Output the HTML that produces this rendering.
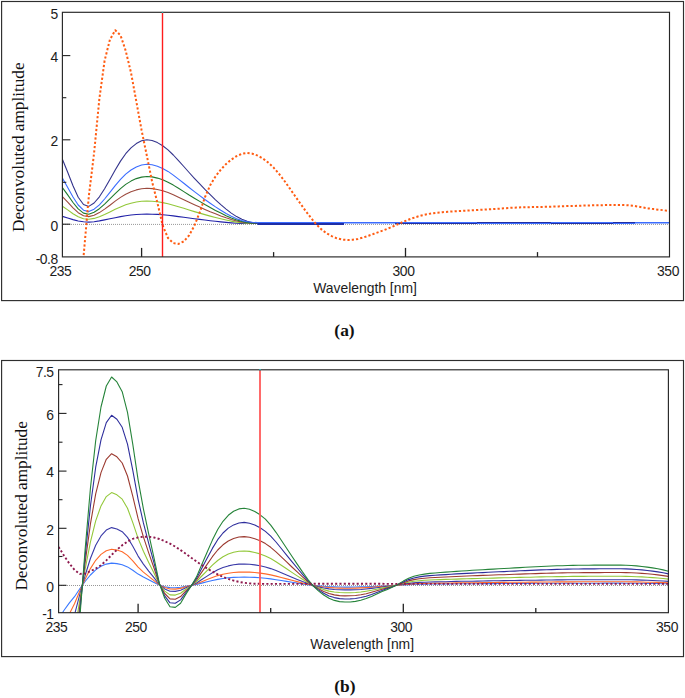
<!DOCTYPE html>
<html><head><meta charset="utf-8"><title>Deconvoluted spectra</title>
<style>
html,body{margin:0;padding:0;background:#fff;}
body{width:685px;height:698px;position:relative;overflow:hidden;font-family:"Liberation Sans",sans-serif;}
svg{display:block}
</style></head><body>
<svg width="685" height="698" viewBox="0 0 685 698" style="position:absolute;left:0;top:0">
<defs>
<clipPath id="ca"><rect x="62.4" y="12.3" width="607.1" height="244.59999999999997"/></clipPath>
<clipPath id="cb"><rect x="58.6" y="369.8" width="609.8" height="242.90000000000003"/></clipPath>
</defs>
<rect x="1.6" y="1.5" width="681.9" height="299.1" fill="#fff" stroke="#2e2e2e" stroke-width="1.15"/>
<rect x="1.6" y="360.5" width="681.9" height="296.1" fill="#fff" stroke="#2e2e2e" stroke-width="1.15"/>
<line x1="63" y1="224.4" x2="669" y2="224.4" stroke="#979797" stroke-width="1" stroke-dasharray="1 1"/>
<g clip-path="url(#ca)" fill="none" stroke-linejoin="round">
<path d="M62.4,216.4 L67.7,218.0 L73.0,219.6 L78.2,221.0 L83.5,221.8 L88.8,222.1 L94.1,221.7 L99.4,220.9 L104.6,219.9 L109.9,218.8 L115.2,217.7 L120.5,216.6 L125.7,215.7 L131.0,215.0 L136.3,214.5 L141.6,214.2 L146.9,214.1 L152.1,214.2 L157.4,214.4 L162.7,214.8 L168.0,215.3 L173.3,215.9 L178.5,216.6 L183.8,217.3 L189.1,218.0 L194.4,218.7 L199.7,219.4 L204.9,220.0 L210.2,220.7 L215.5,221.3 L220.8,221.9 L226.1,222.4 L231.3,222.9 L236.6,223.3 L241.9,223.5 L247.2,223.5 L252.4,223.5 L257.7,223.4" stroke="#2222a8" stroke-width="1.1"/>
<path d="M62.4,206.3 L67.7,209.9 L73.0,213.7 L78.2,216.8 L83.5,218.8 L88.8,219.3 L94.1,218.4 L99.4,216.7 L104.6,214.4 L109.9,211.9 L115.2,209.3 L120.5,206.9 L125.7,204.8 L131.0,203.2 L136.3,202.0 L141.6,201.3 L146.9,201.0 L152.1,201.2 L157.4,201.8 L162.7,202.6 L168.0,203.8 L173.3,205.2 L178.5,206.7 L183.8,208.3 L189.1,210.0 L194.4,211.6 L199.7,213.1 L204.9,214.6 L210.2,216.1 L215.5,217.5 L220.8,218.8 L226.1,220.0 L231.3,221.1 L236.6,222.1 L241.9,222.8 L247.2,223.2 L252.4,223.3 L257.7,223.4" stroke="#93c83a" stroke-width="1.1"/>
<path d="M62.4,196.6 L67.7,202.1 L73.0,207.9 L78.2,212.7 L83.5,215.8 L88.8,216.6 L94.1,215.2 L99.4,212.6 L104.6,209.1 L109.9,205.2 L115.2,201.1 L120.5,197.4 L125.7,194.2 L131.0,191.8 L136.3,189.9 L141.6,188.8 L146.9,188.3 L152.1,188.6 L157.4,189.5 L162.7,190.8 L168.0,192.6 L173.3,194.8 L178.5,197.2 L183.8,199.7 L189.1,202.2 L194.4,204.7 L199.7,207.1 L204.9,209.4 L210.2,211.7 L215.5,213.8 L220.8,215.9 L226.1,217.8 L231.3,219.5 L236.6,221.0 L241.9,222.1 L247.2,222.8 L252.4,223.2 L257.7,223.3" stroke="#9c4a3e" stroke-width="1.1"/>
<path d="M62.4,187.5 L67.7,194.9 L73.0,202.5 L78.2,208.9 L83.5,213.1 L88.8,214.2 L94.1,212.2 L99.4,208.7 L104.6,204.2 L109.9,198.9 L115.2,193.6 L120.5,188.6 L125.7,184.4 L131.0,181.1 L136.3,178.6 L141.6,177.1 L146.9,176.5 L152.1,176.9 L157.4,178.1 L162.7,179.8 L168.0,182.2 L173.3,185.1 L178.5,188.3 L183.8,191.6 L189.1,195.0 L194.4,198.2 L199.7,201.4 L204.9,204.5 L210.2,207.5 L215.5,210.4 L220.8,213.1 L226.1,215.7 L231.3,217.9 L236.6,219.9 L241.9,221.4 L247.2,222.4 L252.4,223.1 L257.7,223.3" stroke="#1f7a2e" stroke-width="1.1"/>
<path d="M62.4,159.2 L67.7,172.3 L73.0,185.8 L78.2,197.2 L83.5,204.5 L88.8,206.4 L94.1,203.0 L99.4,196.8 L104.6,188.7 L109.9,179.5 L115.2,170.0 L120.5,161.1 L125.7,153.7 L131.0,147.9 L136.3,143.6 L141.6,140.8 L146.9,139.8 L152.1,140.5 L157.4,142.6 L162.7,145.7 L168.0,149.9 L173.3,155.0 L178.5,160.6 L183.8,166.5 L189.1,172.5 L194.4,178.3 L199.7,183.9 L204.9,189.4 L210.2,194.7 L215.5,199.8 L220.8,204.6 L226.1,209.1 L231.3,213.1 L236.6,216.6 L241.9,219.3 L247.2,221.3 L252.4,222.7 L257.7,223.2" stroke="#33338c" stroke-width="1.1"/>
<path d="M62.4,178.1 L67.7,187.4 L73.0,197.0 L78.2,205.0 L83.5,210.2 L88.8,211.6 L94.1,209.2 L99.4,204.8 L104.6,199.0 L109.9,192.4 L115.2,185.7 L120.5,179.4 L125.7,174.1 L131.0,170.0 L136.3,167.0 L141.6,165.0 L146.9,164.3 L152.1,164.8 L157.4,166.2 L162.7,168.5 L168.0,171.4 L173.3,175.1 L178.5,179.1 L183.8,183.3 L189.1,187.5 L194.4,191.6 L199.7,195.6 L204.9,199.5 L210.2,203.2 L215.5,206.9 L220.8,210.3 L226.1,213.5 L231.3,216.3 L236.6,218.8 L241.9,220.6 L247.2,221.7 L252.4,222.3 L257.7,222.5" stroke="#3a6cff" stroke-width="1.1"/>
<path d="M257.4,222.75 L669.9,222.75" stroke="#3a6cff" stroke-width="1.5"/>
<path d="M257.4,224 L344,224" stroke="#1f2ea6" stroke-width="2"/>
<path d="M395,223.5 L477,223.5" stroke="#1f2ea6" stroke-width="1"/>
<path d="M551,223.5 L613,223.5" stroke="#1f2ea6" stroke-width="1"/>
<path d="M477,222.5 L551,222.5" stroke="#1f2ea6" stroke-width="1"/>
<path d="M477,223.5 L551,223.5" stroke="#3a6cff" stroke-width="1"/>
<path d="M613,222.5 L635,222.5" stroke="#1f2ea6" stroke-width="1"/>
<path d="M613,223.5 L635,223.5" stroke="#3a6cff" stroke-width="1"/>
<path d="M80.0,285.0 L83.5,257.2 L88.8,196.4 L94.1,152.9 L99.4,98.5 L104.6,60.6 L109.9,39.7 L115.2,30.2 L120.5,35.3 L125.7,50.7 L131.0,72.7 L136.3,101.3 L141.6,130.4 L146.9,156.0 L152.1,181.7 L157.4,202.8 L162.7,225.5 L168.0,238.0 L173.3,243.1 L178.5,243.9 L183.8,241.4 L189.1,235.4 L194.4,225.7 L199.7,212.4 L204.9,197.4 L210.2,185.2 L215.5,176.4 L220.8,169.6 L226.1,164.0 L231.3,159.6 L236.6,156.1 L241.9,153.8 L247.2,153.0 L252.4,153.7 L257.7,155.6 L263.0,158.6 L268.3,162.6 L273.6,167.6 L278.8,173.6 L284.1,180.4 L289.4,187.9 L294.7,195.5 L300.0,203.0 L305.2,210.3 L310.5,217.3 L315.8,223.8 L321.1,229.1 L326.4,233.2 L331.6,236.1 L336.9,238.3 L342.2,239.6 L347.5,240.0 L352.8,239.8 L358.0,238.9 L363.3,237.5 L368.6,235.7 L373.9,233.8 L379.1,231.9 L384.4,230.0 L389.7,227.8 L395.0,225.5 L400.3,223.2 L405.5,220.9 L410.8,218.8 L416.1,217.0 L421.4,215.5 L426.7,214.3 L431.9,213.3 L437.2,212.7 L442.5,212.2 L447.8,211.8 L453.1,211.4 L458.3,211.1 L463.6,210.8 L468.9,210.5 L474.2,210.2 L479.5,209.9 L484.7,209.6 L490.0,209.3 L495.3,208.9 L500.6,208.6 L505.8,208.2 L511.1,207.8 L516.4,207.6 L521.7,207.3 L527.0,207.2 L532.2,207.1 L537.5,207.0 L542.8,206.9 L548.1,206.8 L553.4,206.6 L558.6,206.4 L563.9,206.2 L569.2,206.0 L574.5,205.9 L579.8,205.7 L585.0,205.5 L590.3,205.4 L595.6,205.3 L600.9,205.2 L606.2,205.0 L611.4,204.9 L616.7,204.9 L622.0,205.0 L627.3,205.2 L632.5,205.7 L637.8,206.5 L643.1,207.5 L648.4,208.4 L653.7,209.1 L658.9,209.7 L664.2,210.3 L669.5,211.0" stroke="#ff5c12" stroke-width="2" stroke-dasharray="2.2 2.1"/>
</g>
<line x1="162.5" y1="12.3" x2="162.5" y2="256.9" stroke="#ff1c1c" stroke-width="1.4"/>
<rect x="62.4" y="12.3" width="607.1" height="244.59999999999997" fill="none" stroke="#262626" stroke-width="1.15"/>
<line x1="62.4" y1="55.6" x2="70.3" y2="55.6" stroke="#222" stroke-width="1.1"/>
<line x1="62.4" y1="97.7" x2="66.3" y2="97.7" stroke="#222" stroke-width="1.1"/>
<line x1="62.4" y1="139.8" x2="70.3" y2="139.8" stroke="#222" stroke-width="1.1"/>
<line x1="62.4" y1="182.3" x2="66.3" y2="182.3" stroke="#222" stroke-width="1.1"/>
<line x1="62.4" y1="224.2" x2="70.3" y2="224.2" stroke="#222" stroke-width="1.1"/>
<line x1="141.6" y1="256.9" x2="141.6" y2="247.89999999999998" stroke="#222" stroke-width="1.3"/>
<line x1="273.6" y1="256.9" x2="273.6" y2="252.09999999999997" stroke="#222" stroke-width="1.3"/>
<line x1="405.5" y1="256.9" x2="405.5" y2="247.89999999999998" stroke="#222" stroke-width="1.3"/>
<line x1="537.5" y1="256.9" x2="537.5" y2="252.09999999999997" stroke="#222" stroke-width="1.3"/>
<line x1="59" y1="585.5" x2="668" y2="585.5" stroke="#979797" stroke-width="1" stroke-dasharray="1 1"/>
<g clip-path="url(#cb)" fill="none" stroke-linejoin="round">
<path d="M56.0,622.8 L58.6,618.7 L63.9,610.5 L69.2,603.1 L74.5,596.7 L79.8,588.8 L85.1,581.5 L90.4,575.0 L95.7,569.9 L101.0,566.3 L106.3,564.1 L111.6,563.1 L116.9,563.6 L122.2,564.7 L127.5,566.9 L132.8,570.3 L138.1,574.1 L143.4,577.1 L148.7,579.8 L154.0,582.4 L159.3,585.1 L164.7,586.7 L170.0,587.6 L175.3,587.7 L180.6,587.2 L185.9,586.2 L191.2,585.4 L196.5,584.4 L201.8,583.1 L207.1,581.8 L212.4,580.5 L217.7,579.4 L223.0,578.5 L228.3,577.8 L233.6,577.4 L238.9,577.2 L244.2,577.1 L249.5,577.2 L254.8,577.4 L260.1,577.8 L265.4,578.3 L270.7,578.9 L276.0,579.7 L281.3,580.5 L286.6,581.4 L291.9,582.2 L297.2,583.0 L302.5,583.9 L307.8,584.7 L313.1,585.4 L318.4,585.9 L323.7,586.3 L329.0,586.7 L334.3,586.9 L339.6,587.0 L344.9,587.1 L350.2,587.1 L355.5,587.0 L360.8,586.9 L366.2,586.7 L371.5,586.5 L376.8,586.2 L382.1,586.0 L387.4,585.7 L392.7,585.5 L398.0,585.2 L403.3,584.9 L408.6,584.6 L413.9,584.3 L419.2,584.2 L424.5,584.1 L429.8,584.0 L435.1,584.0 L440.4,583.9 L445.7,583.9 L451.0,583.9 L456.3,583.8 L461.6,583.8 L466.9,583.7 L472.2,583.7 L477.5,583.7 L482.8,583.6 L488.1,583.6 L493.4,583.6 L498.7,583.5 L504.0,583.5 L509.3,583.5 L514.6,583.4 L519.9,583.4 L525.2,583.4 L530.5,583.4 L535.8,583.3 L541.1,583.3 L546.4,583.3 L551.7,583.2 L557.0,583.2 L562.3,583.2 L567.7,583.2 L573.0,583.2 L578.3,583.2 L583.6,583.2 L588.9,583.2 L594.2,583.2 L599.5,583.2 L604.8,583.1 L610.1,583.1 L615.4,583.1 L620.7,583.1 L626.0,583.2 L631.3,583.2 L636.6,583.2 L641.9,583.3 L647.2,583.4 L652.5,583.4 L657.8,583.5 L663.1,583.7 L668.4,583.8 L669.3,583.8" stroke="#3a78ff" stroke-width="1.1"/>
<path d="M56.0,646.3 L58.6,639.6 L63.9,626.2 L69.2,614.2 L74.5,603.8 L79.8,591.0 L85.1,579.2 L90.4,568.6 L95.7,560.3 L101.0,554.4 L106.3,550.8 L111.6,549.3 L116.9,550.1 L122.2,551.8 L127.5,555.4 L132.8,560.9 L138.1,567.1 L143.4,572.1 L148.7,576.4 L154.0,580.6 L159.3,584.9 L164.7,587.5 L170.0,589.0 L175.3,589.1 L180.6,588.4 L185.9,586.8 L191.2,585.4 L196.5,583.8 L201.8,581.7 L207.1,579.6 L212.4,577.5 L217.7,575.6 L223.0,574.2 L228.3,573.2 L233.6,572.5 L238.9,572.1 L244.2,572.0 L249.5,572.1 L254.8,572.5 L260.1,573.1 L265.4,573.9 L270.7,574.9 L276.0,576.1 L281.3,577.5 L286.6,578.9 L291.9,580.3 L297.2,581.6 L302.5,583.0 L307.8,584.3 L313.1,585.4 L318.4,586.3 L323.7,587.0 L329.0,587.5 L334.3,587.9 L339.6,588.1 L344.9,588.2 L350.2,588.2 L355.5,588.1 L360.8,587.9 L366.2,587.6 L371.5,587.2 L376.8,586.8 L382.1,586.4 L387.4,586.0 L392.7,585.6 L398.0,585.1 L403.3,584.6 L408.6,584.1 L413.9,583.7 L419.2,583.5 L424.5,583.4 L429.8,583.2 L435.1,583.2 L440.4,583.1 L445.7,583.0 L451.0,583.0 L456.3,582.9 L461.6,582.8 L466.9,582.8 L472.2,582.7 L477.5,582.7 L482.8,582.6 L488.1,582.5 L493.4,582.5 L498.7,582.4 L504.0,582.4 L509.3,582.3 L514.6,582.3 L519.9,582.2 L525.2,582.2 L530.5,582.1 L535.8,582.1 L541.1,582.0 L546.4,582.0 L551.7,582.0 L557.0,581.9 L562.3,581.9 L567.7,581.9 L573.0,581.9 L578.3,581.8 L583.6,581.8 L588.9,581.8 L594.2,581.8 L599.5,581.8 L604.8,581.8 L610.1,581.8 L615.4,581.8 L620.7,581.8 L626.0,581.8 L631.3,581.9 L636.6,581.9 L641.9,582.0 L647.2,582.2 L652.5,582.3 L657.8,582.4 L663.1,582.6 L668.4,582.9 L669.3,582.9" stroke="#ff6a2a" stroke-width="1.1"/>
<path d="M56.0,682.9 L58.6,672.2 L63.9,650.8 L69.2,631.6 L74.5,614.9 L79.8,594.4 L85.1,575.5 L90.4,558.5 L95.7,545.2 L101.0,535.9 L106.3,530.1 L111.6,527.6 L116.9,529.0 L122.2,531.7 L127.5,537.4 L132.8,546.3 L138.1,556.1 L143.4,564.1 L148.7,571.1 L154.0,577.7 L159.3,584.7 L164.7,588.9 L170.0,591.2 L175.3,591.4 L180.6,590.3 L185.9,587.7 L191.2,585.5 L196.5,583.0 L201.8,579.5 L207.1,576.1 L212.4,572.8 L217.7,569.8 L223.0,567.6 L228.3,565.9 L233.6,564.8 L238.9,564.1 L244.2,564.0 L249.5,564.2 L254.8,564.9 L260.1,565.8 L265.4,567.0 L270.7,568.6 L276.0,570.6 L281.3,572.8 L286.6,575.1 L291.9,577.3 L297.2,579.4 L302.5,581.6 L307.8,583.6 L313.1,585.5 L318.4,586.9 L323.7,588.0 L329.0,588.9 L334.3,589.5 L339.6,589.8 L344.9,589.9 L350.2,589.9 L355.5,589.8 L360.8,589.5 L366.2,589.0 L371.5,588.4 L376.8,587.7 L382.1,587.0 L387.4,586.4 L392.7,585.8 L398.0,585.0 L403.3,584.1 L408.6,583.4 L413.9,582.8 L419.2,582.4 L424.5,582.2 L429.8,582.0 L435.1,581.9 L440.4,581.8 L445.7,581.7 L451.0,581.5 L456.3,581.4 L461.6,581.3 L466.9,581.2 L472.2,581.2 L477.5,581.1 L482.8,581.0 L488.1,580.9 L493.4,580.8 L498.7,580.7 L504.0,580.6 L509.3,580.5 L514.6,580.5 L519.9,580.4 L525.2,580.3 L530.5,580.2 L535.8,580.2 L541.1,580.1 L546.4,580.0 L551.7,580.0 L557.0,579.9 L562.3,579.9 L567.7,579.8 L573.0,579.8 L578.3,579.8 L583.6,579.7 L588.9,579.7 L594.2,579.7 L599.5,579.7 L604.8,579.7 L610.1,579.7 L615.4,579.7 L620.7,579.7 L626.0,579.7 L631.3,579.8 L636.6,579.9 L641.9,580.1 L647.2,580.3 L652.5,580.5 L657.8,580.7 L663.1,581.0 L668.4,581.4 L669.3,581.5" stroke="#3a3aa8" stroke-width="1.1"/>
<path d="M56.0,742.1 L58.6,724.9 L63.9,690.6 L69.2,659.7 L74.5,632.8 L79.8,599.9 L85.1,569.5 L90.4,542.2 L95.7,520.9 L101.0,505.9 L106.3,496.6 L111.6,492.6 L116.9,494.8 L122.2,499.2 L127.5,508.3 L132.8,522.6 L138.1,538.4 L143.4,551.2 L148.7,562.4 L154.0,573.1 L159.3,584.4 L164.7,591.1 L170.0,594.9 L175.3,595.1 L180.6,593.3 L185.9,589.2 L191.2,585.6 L196.5,581.5 L201.8,576.0 L207.1,570.6 L212.4,565.2 L217.7,560.5 L223.0,556.8 L228.3,554.1 L233.6,552.3 L238.9,551.3 L244.2,551.0 L249.5,551.4 L254.8,552.5 L260.1,553.9 L265.4,555.9 L270.7,558.5 L276.0,561.7 L281.3,565.2 L286.6,568.8 L291.9,572.4 L297.2,575.9 L302.5,579.3 L307.8,582.6 L313.1,585.6 L318.4,587.8 L323.7,589.6 L329.0,591.1 L334.3,592.0 L339.6,592.5 L344.9,592.7 L350.2,592.7 L355.5,592.5 L360.8,592.0 L366.2,591.2 L371.5,590.3 L376.8,589.2 L382.1,588.1 L387.4,587.1 L392.7,586.1 L398.0,584.9 L403.3,583.4 L408.6,582.2 L413.9,581.3 L419.2,580.7 L424.5,580.3 L429.8,580.0 L435.1,579.8 L440.4,579.6 L445.7,579.4 L451.0,579.3 L456.3,579.1 L461.6,578.9 L466.9,578.8 L472.2,578.6 L477.5,578.5 L482.8,578.3 L488.1,578.2 L493.4,578.1 L498.7,577.9 L504.0,577.8 L509.3,577.7 L514.6,577.5 L519.9,577.4 L525.2,577.3 L530.5,577.2 L535.8,577.0 L541.1,576.9 L546.4,576.8 L551.7,576.7 L557.0,576.6 L562.3,576.6 L567.7,576.5 L573.0,576.4 L578.3,576.4 L583.6,576.4 L588.9,576.3 L594.2,576.3 L599.5,576.3 L604.8,576.3 L610.1,576.3 L615.4,576.3 L620.7,576.3 L626.0,576.4 L631.3,576.5 L636.6,576.7 L641.9,576.9 L647.2,577.2 L652.5,577.6 L657.8,578.0 L663.1,578.5 L668.4,579.1 L669.3,579.2" stroke="#93c83a" stroke-width="1.1"/>
<path d="M56.0,808.0 L58.6,783.5 L63.9,734.8 L69.2,691.0 L74.5,652.7 L79.8,606.0 L85.1,562.9 L90.4,524.1 L95.7,493.8 L101.0,472.6 L106.3,459.3 L111.6,453.7 L116.9,456.8 L122.2,463.0 L127.5,476.0 L132.8,496.3 L138.1,518.7 L143.4,536.9 L148.7,552.8 L154.0,568.0 L159.3,584.0 L164.7,593.5 L170.0,598.9 L175.3,599.3 L180.6,596.6 L185.9,590.9 L191.2,585.8 L196.5,580.0 L201.8,572.1 L207.1,564.4 L212.4,556.7 L217.7,550.0 L223.0,544.8 L228.3,541.0 L233.6,538.5 L238.9,537.0 L244.2,536.6 L249.5,537.2 L254.8,538.7 L260.1,540.7 L265.4,543.6 L270.7,547.3 L276.0,551.8 L281.3,556.8 L286.6,561.9 L291.9,567.0 L297.2,571.9 L302.5,576.8 L307.8,581.5 L313.1,585.7 L318.4,588.8 L323.7,591.4 L329.0,593.5 L334.3,594.9 L339.6,595.6 L344.9,595.9 L350.2,595.8 L355.5,595.5 L360.8,594.8 L366.2,593.7 L371.5,592.3 L376.8,590.8 L382.1,589.3 L387.4,587.9 L392.7,586.5 L398.0,584.7 L403.3,582.7 L408.6,580.9 L413.9,579.6 L419.2,578.8 L424.5,578.2 L429.8,577.8 L435.1,577.5 L440.4,577.2 L445.7,577.0 L451.0,576.7 L456.3,576.5 L461.6,576.3 L466.9,576.0 L472.2,575.8 L477.5,575.6 L482.8,575.4 L488.1,575.2 L493.4,575.0 L498.7,574.8 L504.0,574.7 L509.3,574.5 L514.6,574.3 L519.9,574.1 L525.2,573.9 L530.5,573.7 L535.8,573.6 L541.1,573.4 L546.4,573.3 L551.7,573.1 L557.0,573.0 L562.3,572.9 L567.7,572.8 L573.0,572.7 L578.3,572.7 L583.6,572.6 L588.9,572.6 L594.2,572.6 L599.5,572.6 L604.8,572.5 L610.1,572.5 L615.4,572.5 L620.7,572.5 L626.0,572.6 L631.3,572.8 L636.6,573.0 L641.9,573.4 L647.2,573.8 L652.5,574.3 L657.8,574.9 L663.1,575.6 L668.4,576.4 L669.3,576.6" stroke="#9c3a30" stroke-width="1.1"/>
<path d="M56.0,872.9 L58.6,841.2 L63.9,778.3 L69.2,721.7 L74.5,672.4 L79.8,612.1 L85.1,556.4 L90.4,506.3 L95.7,467.2 L101.0,439.8 L106.3,422.6 L111.6,415.3 L116.9,419.3 L122.2,427.3 L127.5,444.1 L132.8,470.4 L138.1,499.3 L143.4,522.9 L148.7,543.4 L154.0,562.9 L159.3,583.6 L164.7,595.9 L170.0,602.8 L175.3,603.3 L180.6,599.9 L185.9,592.5 L191.2,585.9 L196.5,578.4 L201.8,568.3 L207.1,558.3 L212.4,548.4 L217.7,539.7 L223.0,533.0 L228.3,528.1 L233.6,524.9 L238.9,523.0 L244.2,522.4 L249.5,523.2 L254.8,525.1 L260.1,527.8 L265.4,531.4 L270.7,536.2 L276.0,542.0 L281.3,548.5 L286.6,555.1 L291.9,561.6 L297.2,568.0 L302.5,574.3 L307.8,580.4 L313.1,585.8 L318.4,589.9 L323.7,593.2 L329.0,595.9 L334.3,597.6 L339.6,598.6 L344.9,599.0 L350.2,598.9 L355.5,598.5 L360.8,597.5 L366.2,596.2 L371.5,594.4 L376.8,592.4 L382.1,590.4 L387.4,588.6 L392.7,586.8 L398.0,584.5 L403.3,581.9 L408.6,579.6 L413.9,578.0 L419.2,576.9 L424.5,576.1 L429.8,575.6 L435.1,575.2 L440.4,574.9 L445.7,574.6 L451.0,574.2 L456.3,573.9 L461.6,573.6 L466.9,573.4 L472.2,573.1 L477.5,572.8 L482.8,572.6 L488.1,572.3 L493.4,572.0 L498.7,571.8 L504.0,571.6 L509.3,571.3 L514.6,571.1 L519.9,570.8 L525.2,570.6 L530.5,570.4 L535.8,570.1 L541.1,569.9 L546.4,569.8 L551.7,569.6 L557.0,569.4 L562.3,569.3 L567.7,569.1 L573.0,569.0 L578.3,569.0 L583.6,568.9 L588.9,568.9 L594.2,568.9 L599.5,568.8 L604.8,568.8 L610.1,568.8 L615.4,568.8 L620.7,568.8 L626.0,568.9 L631.3,569.1 L636.6,569.5 L641.9,569.9 L647.2,570.5 L652.5,571.1 L657.8,571.9 L663.1,572.8 L668.4,573.9 L669.3,574.1" stroke="#2e2e9c" stroke-width="1.1"/>
<path d="M56.0,937.7 L58.6,898.9 L63.9,821.8 L69.2,752.5 L74.5,692.0 L79.8,618.1 L85.1,549.9 L90.4,488.5 L95.7,440.6 L101.0,407.0 L106.3,386.0 L111.6,377.0 L116.9,381.9 L122.2,391.7 L127.5,412.3 L132.8,444.4 L138.1,479.9 L143.4,508.8 L148.7,533.9 L154.0,557.8 L159.3,583.2 L164.7,598.2 L170.0,606.8 L175.3,607.4 L180.6,603.2 L185.9,594.1 L191.2,586.0 L196.5,576.9 L201.8,564.5 L207.1,552.2 L212.4,540.1 L217.7,529.5 L223.0,521.3 L228.3,515.3 L233.6,511.2 L238.9,508.9 L244.2,508.2 L249.5,509.2 L254.8,511.5 L260.1,514.8 L265.4,519.2 L270.7,525.2 L276.0,532.3 L281.3,540.2 L286.6,548.3 L291.9,556.3 L297.2,564.1 L302.5,571.9 L307.8,579.3 L313.1,585.9 L318.4,590.9 L323.7,595.0 L329.0,598.3 L334.3,600.4 L339.6,601.6 L344.9,602.0 L350.2,602.0 L355.5,601.4 L360.8,600.3 L366.2,598.6 L371.5,596.4 L376.8,594.0 L382.1,591.6 L387.4,589.4 L392.7,587.1 L398.0,584.3 L403.3,581.1 L408.6,578.3 L413.9,576.3 L419.2,575.0 L424.5,574.1 L429.8,573.4 L435.1,573.0 L440.4,572.5 L445.7,572.1 L451.0,571.7 L456.3,571.4 L461.6,571.0 L466.9,570.7 L472.2,570.3 L477.5,570.0 L482.8,569.7 L488.1,569.4 L493.4,569.1 L498.7,568.8 L504.0,568.5 L509.3,568.2 L514.6,567.9 L519.9,567.6 L525.2,567.3 L530.5,567.0 L535.8,566.7 L541.1,566.5 L546.4,566.2 L551.7,566.0 L557.0,565.8 L562.3,565.7 L567.7,565.5 L573.0,565.4 L578.3,565.3 L583.6,565.2 L588.9,565.2 L594.2,565.1 L599.5,565.1 L604.8,565.1 L610.1,565.1 L615.4,565.1 L620.7,565.1 L626.0,565.2 L631.3,565.5 L636.6,565.9 L641.9,566.5 L647.2,567.1 L652.5,567.9 L657.8,568.8 L663.1,569.9 L668.4,571.3 L669.3,571.5" stroke="#26843a" stroke-width="1.1"/>
<path d="M58.6,546.9 L63.9,555.6 L69.2,563.3 L74.5,569.8 L79.8,573.9 L85.1,573.6 L90.4,571.2 L95.7,568.6 L101.0,565.2 L106.3,560.4 L111.6,554.9 L116.9,549.8 L122.2,545.2 L127.5,541.5 L132.8,538.8 L138.1,537.5 L143.4,536.7 L148.7,536.7 L154.0,537.5 L159.3,539.0 L164.7,541.2 L170.0,543.7 L175.3,546.6 L180.6,550.1 L185.9,553.8 L191.2,557.8 L196.5,561.5 L201.8,565.1 L207.1,568.5 L212.4,571.6 L217.7,574.4 L223.0,576.9 L228.3,578.9 L233.6,580.6 L238.9,581.9 L244.2,582.8 L249.5,583.4 L254.8,583.7 L260.1,583.8 L265.4,583.9 L270.7,583.9 L276.0,583.9 L281.3,583.9 L286.6,583.9 L291.9,583.9 L297.2,583.9 L302.5,583.9 L307.8,583.8 L313.1,583.8 L318.4,583.8 L323.7,583.8 L329.0,583.8 L334.3,583.8 L339.6,583.8 L344.9,583.8 L350.2,583.8 L355.5,583.8 L360.8,583.8 L366.2,583.8 L371.5,583.8 L376.8,583.8 L382.1,583.8 L387.4,583.9 L392.7,583.9 L398.0,583.9 L403.3,583.9 L408.6,583.9 L413.9,583.9 L419.2,583.9 L424.5,583.9 L429.8,583.9 L435.1,583.9 L440.4,583.9 L445.7,583.9 L451.0,583.9 L456.3,583.9 L461.6,583.9 L466.9,583.9 L472.2,583.9 L477.5,583.9 L482.8,583.9 L488.1,583.9 L493.4,583.9 L498.7,583.9 L504.0,583.9 L509.3,583.9 L514.6,583.9 L519.9,583.9 L525.2,583.9 L530.5,583.9 L535.8,583.9 L541.1,583.9 L546.4,583.9 L551.7,583.9 L557.0,583.9 L562.3,583.9 L567.7,583.9 L573.0,583.9 L578.3,583.9 L583.6,583.9 L588.9,583.9 L594.2,583.9 L599.5,583.9 L604.8,583.9 L610.1,583.9 L615.4,583.9 L620.7,583.9 L626.0,583.9 L631.3,583.9 L636.6,583.9 L641.9,583.9 L647.2,583.9 L652.5,583.9 L657.8,583.9 L663.1,583.9 L668.4,583.9" stroke="#8e1a4e" stroke-width="1.9" stroke-dasharray="2.1 2.2"/>
</g>
<line x1="260" y1="369.8" x2="260" y2="612.7" stroke="#ff5a5a" stroke-width="1.8"/>
<rect x="58.6" y="369.8" width="609.8" height="242.90000000000003" fill="none" stroke="#262626" stroke-width="1.15"/>
<line x1="58.6" y1="384.6" x2="62.5" y2="384.6" stroke="#222" stroke-width="1.1"/>
<line x1="58.6" y1="413.4" x2="66.5" y2="413.4" stroke="#222" stroke-width="1.1"/>
<line x1="58.6" y1="442.2" x2="62.5" y2="442.2" stroke="#222" stroke-width="1.1"/>
<line x1="58.6" y1="471.1" x2="66.5" y2="471.1" stroke="#222" stroke-width="1.1"/>
<line x1="58.6" y1="499.7" x2="62.5" y2="499.7" stroke="#222" stroke-width="1.1"/>
<line x1="58.6" y1="528.3" x2="66.5" y2="528.3" stroke="#222" stroke-width="1.1"/>
<line x1="58.6" y1="556.5" x2="62.5" y2="556.5" stroke="#222" stroke-width="1.1"/>
<line x1="58.6" y1="585.3" x2="66.5" y2="585.3" stroke="#222" stroke-width="1.1"/>
<line x1="138.1" y1="612.7" x2="138.1" y2="603.7" stroke="#222" stroke-width="1.3"/>
<line x1="270.7" y1="612.7" x2="270.7" y2="607.9000000000001" stroke="#222" stroke-width="1.3"/>
<line x1="403.3" y1="612.7" x2="403.3" y2="603.7" stroke="#222" stroke-width="1.3"/>
<line x1="535.8" y1="612.7" x2="535.8" y2="607.9000000000001" stroke="#222" stroke-width="1.3"/>
<rect x="161.8" y="11.7" width="1.4" height="1.1" fill="#35c8c8"/>
<rect x="259.1" y="369.2" width="1.9" height="1.1" fill="#35b8b8"/>
<g font-family="Liberation Sans, sans-serif" font-size="13.9" fill="#1c1c1c">
<text x="365.0" y="293.0" text-anchor="middle" >Wavelength [nm]</text>
<text x="362.2" y="649.3" text-anchor="middle" >Wavelength [nm]</text>
</g>
<g font-family="Liberation Sans, sans-serif" font-size="13.9" fill="#1c1c1c" letter-spacing="-0.45">
<text x="57.8" y="61.9" text-anchor="end" >4</text>
<text x="57.8" y="146.3" text-anchor="end" >2</text>
<text x="57.8" y="230.7" text-anchor="end" >0</text>
<text x="57.8" y="18.6" text-anchor="end" >5</text>
<text x="57.8" y="263.6" text-anchor="end" >-0.8</text>
<text x="60.4" y="276.3" text-anchor="middle" >235</text>
<text x="139.6" y="276.3" text-anchor="middle" >250</text>
<text x="403.5" y="276.3" text-anchor="middle" >300</text>
<text x="668.0" y="276.3" text-anchor="middle" >350</text>
<text x="53.6" y="420.0" text-anchor="end" >6</text>
<text x="53.6" y="477.3" text-anchor="end" >4</text>
<text x="53.6" y="534.6" text-anchor="end" >2</text>
<text x="53.6" y="591.9" text-anchor="end" >0</text>
<text x="53.6" y="376.6" text-anchor="end" >7.5</text>
<text x="53.6" y="619.3" text-anchor="end" >-1</text>
<text x="56.4" y="632.3" text-anchor="middle" >235</text>
<text x="135.9" y="632.3" text-anchor="middle" >250</text>
<text x="401.1" y="632.3" text-anchor="middle" >300</text>
<text x="667.0" y="632.3" text-anchor="middle" >350</text>
</g>
<g font-family="Liberation Serif, serif" fill="#111">
<text font-size="17.2" text-anchor="middle" transform="translate(23.7,147.2) rotate(-90)">Deconvoluted amplitude</text>
<text font-size="17.2" text-anchor="middle" transform="translate(27.0,505.9) rotate(-90)">Deconvoluted amplitude</text>
<text font-size="17.4" font-weight="bold" text-anchor="middle" x="344.5" y="335.6">(a)</text>
<text font-size="17.4" font-weight="bold" text-anchor="middle" x="344.9" y="691.6">(b)</text>
</g>
</svg>
</body></html>
